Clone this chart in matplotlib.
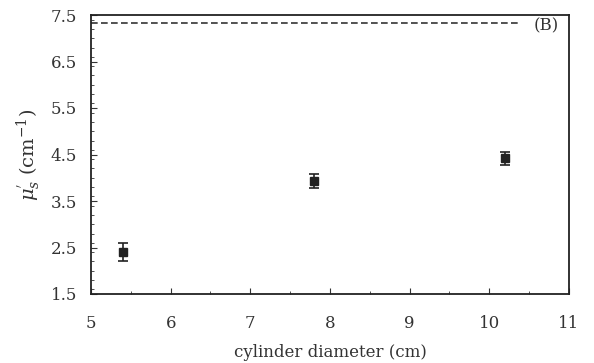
import matplotlib
matplotlib.use("Agg")
import matplotlib.pyplot as plt
from matplotlib.ticker import MultipleLocator

diameter = [5.4, 7.8, 10.2]
mus = [2.40, 3.92, 4.42]
err = [0.19, 0.15, 0.14]
ref_level = 7.32
ref_x = [5.0, 10.4]
xticks = [5, 6, 7, 8, 9, 10, 11]
yticks = [1.5, 2.5, 3.5, 4.5, 5.5, 6.5, 7.5]

plt.rcParams['font.family'] = ['DejaVu Serif']
plt.rcParams['mathtext.fontset'] = 'dejavuserif'

fig = plt.figure(figsize=(5.94, 3.63), dpi=100)
ax = fig.add_axes([91/594, 1-294/363, (569-91)/594, (294-15)/363])

ax.errorbar(diameter, mus, yerr=err, fmt='s', color='#222222', ms=5.5,
            capsize=3.5, elinewidth=1.2, capthick=1.2)
ax.plot(ref_x, [ref_level, ref_level], ls=(0, (4, 2)), color='#333333', lw=1.2)
ax.text(10.87, ref_level - 0.05, '(B)', ha='right', va='center', fontsize=12, color='#333333')

ax.set_xlim(5, 11)
ax.set_ylim(1.5, 7.5)
ax.set_xticks(xticks)
ax.set_yticks(yticks)
ax.set_xticklabels([str(t) for t in xticks])
ax.set_yticklabels([str(t) for t in yticks])
ax.xaxis.set_minor_locator(MultipleLocator(0.5))
ax.yaxis.set_minor_locator(MultipleLocator(0.2))
ax.tick_params(which='both', direction='in', top=False, right=False, labelsize=12,
               colors='#333333')
ax.tick_params(axis='x', which='major', length=4, pad=15)
ax.tick_params(axis='y', which='major', length=4, pad=10)
ax.tick_params(which='minor', length=2.5)
for s in ax.spines.values():
    s.set_linewidth(1.3)
    s.set_color('#222222')

ax.set_xlabel('cylinder diameter (cm)', fontsize=12, color='#333333', labelpad=9)
ax.set_ylabel(r"$\mu_s^{'}\ (\mathrm{cm}^{-1})$", fontsize=14, color='#333333', labelpad=6)

fig.savefig('out.png', dpi=100)
